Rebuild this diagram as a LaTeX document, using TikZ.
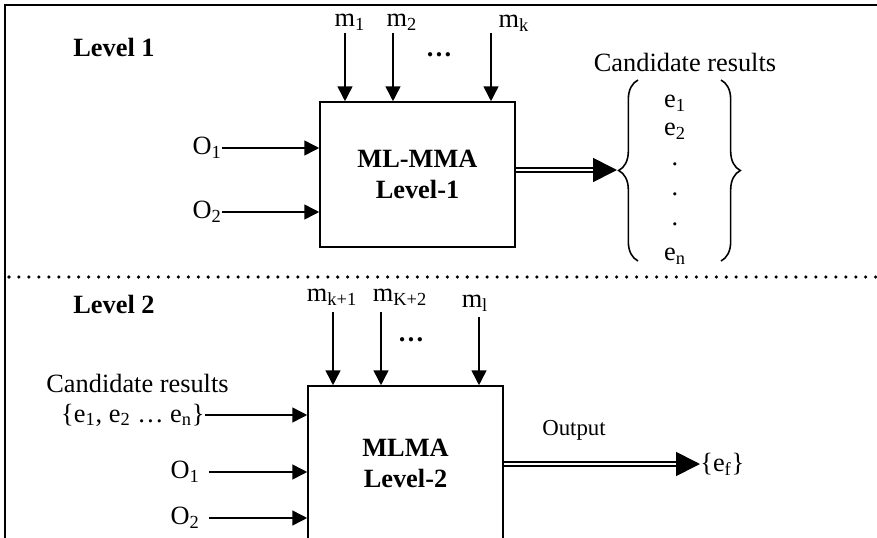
\documentclass[tikz,border=0pt]{standalone}
\usepackage{fontspec}
\setmainfont{Liberation Serif}
\usetikzlibrary{arrows.meta,decorations.pathreplacing}

\tikzset{
  lbl/.style={inner sep=0pt, font=\fontsize{15}{18}\selectfont},
  hdr/.style={inner sep=0pt, font=\fontsize{15}{18}\selectfont\bfseries},
  block/.style={draw, line width=0.9pt, minimum width=3.9cm, align=center,
    font=\fontsize{15}{17.6}\selectfont\bfseries},
  arr/.style={line width=0.9pt, -{Triangle[length=8.5pt,width=8.5pt]}},
  fat/.style={line width=1pt, -{Triangle[length=13.6pt,width=13.6pt]}},
  dbl/.style={double, double distance=1.1pt, line width=1pt, shorten >=13.6pt},
  brc/.style={decorate, decoration={brace, amplitude=11pt}, line width=0.9pt},
}

\begin{document}
\begin{tikzpicture}[x=0.02cm, y=-0.02cm]
	\useasboundingbox (0,0) rectangle (877,538);
	\clip (0,0) rectangle (877,538);
	% frame and level separator
	\draw[line width=1.2pt] (5,545) -- (5,5) -- (885,5);
	\draw[line width=2pt, dash pattern=on 0pt off 5.67pt, line cap=round] (9,277) -- (877,277);

	% level 1
	\node[hdr] (lev1) at (114,47) {Level 1};
	\node[block, minimum height=2.9cm] (b1) at (417.5,174.5) {ML-MMA\\Level-1};
	\node[lbl] (m1) at (350,22) {m\textsubscript{1}};
	\node[lbl] (m2) at (402,22) {m\textsubscript{2}};
	\node[lbl] (mk) at (514,23) {m\textsubscript{k}};
	\node[hdr] (dots1) at (439,55) {…};
	\coordinate (t1) at (345,33);
	\coordinate (t2) at (393,33);
	\coordinate (tk) at (491,33);
	\draw[arr] (t1) -- (t1 |- b1.north);
	\draw[arr] (t2) -- (t2 |- b1.north);
	\draw[arr] (tk) -- (tk |- b1.north);
	\node[lbl, anchor=east] (o1) at (222,148) {O\textsubscript{1}};
	\node[lbl, anchor=east] (o2) at (222,212) {O\textsubscript{2}};
	\draw[arr] (o1.east) -- (o1.east -| b1.west);
	\draw[arr] (o2.east) -- (o2.east -| b1.west);

	% candidate results of level 1
	\node[lbl] (cand1) at (685,62) {Candidate results};
	\node[lbl] (e1) at (675,103) {e\textsubscript{1}};
	\node[lbl] (e2) at (675,131) {e\textsubscript{2}};
	\node[lbl] (d1) at (675,164) {.};
	\node[lbl] (d2) at (675,194) {.};
	\node[lbl] (d3) at (675,224) {.};
	\node[lbl] (en) at (675,256) {e\textsubscript{n}};
	\draw[brc] (638,261) -- (638,80);
	\draw[brc] (721,80) -- (721,261);
	\coordinate (ctip) at (617,170);
	\draw[fat] (b1.east |- ctip) -- (ctip);
	\draw[dbl] (b1.east |- ctip) -- (ctip);

	% level 2
	\node[hdr] (lev2) at (114,304) {Level 2};
	\node[block, minimum height=3.08cm] (b2) at (405.5,463) {MLMA\\Level-2};
	\node[lbl] (mk1) at (332,297) {m\textsubscript{k+1}};
	\node[lbl] (mk2) at (400,297) {m\textsubscript{K+2}};
	\node[lbl] (ml) at (475,303) {m\textsubscript{l}};
	\node[hdr] (dots2) at (411,340) {…};
	\coordinate (s1) at (333,312);
	\coordinate (s2) at (381,312);
	\coordinate (sl) at (479,317);
	\draw[arr] (s1) -- (s1 |- b2.north);
	\draw[arr] (s2) -- (s2 |- b2.north);
	\draw[arr] (sl) -- (sl |- b2.north);
	\node[lbl] (cand2) at (137.5,383) {Candidate results};
	\node[lbl, anchor=east] (eset) at (205,415) {\{e\textsubscript{1}, e\textsubscript{2} … e\textsubscript{n}\}};
	\node[lbl, anchor=east] (o3) at (200,472) {O\textsubscript{1}};
	\node[lbl, anchor=east] (o4) at (200,518) {O\textsubscript{2}};
	\draw[arr] (eset.east) -- (eset.east -| b2.west);
	\draw[arr] ([xshift=5pt]o3.east) -- (o3.east -| b2.west);
	\draw[arr] ([xshift=5pt]o4.east) -- (o4.east -| b2.west);

	% output
	\node[lbl, font=\fontsize{13}{16}\selectfont] (out) at (574,430) {Output};
	\node[lbl, anchor=west] (ef) at (700,464) {\{e\textsubscript{f}\}};
	\draw[fat] (b2.east |- ef.west) -- (ef.west);
	\draw[dbl] (b2.east |- ef.west) -- (ef.west);
\end{tikzpicture}
\end{document}
